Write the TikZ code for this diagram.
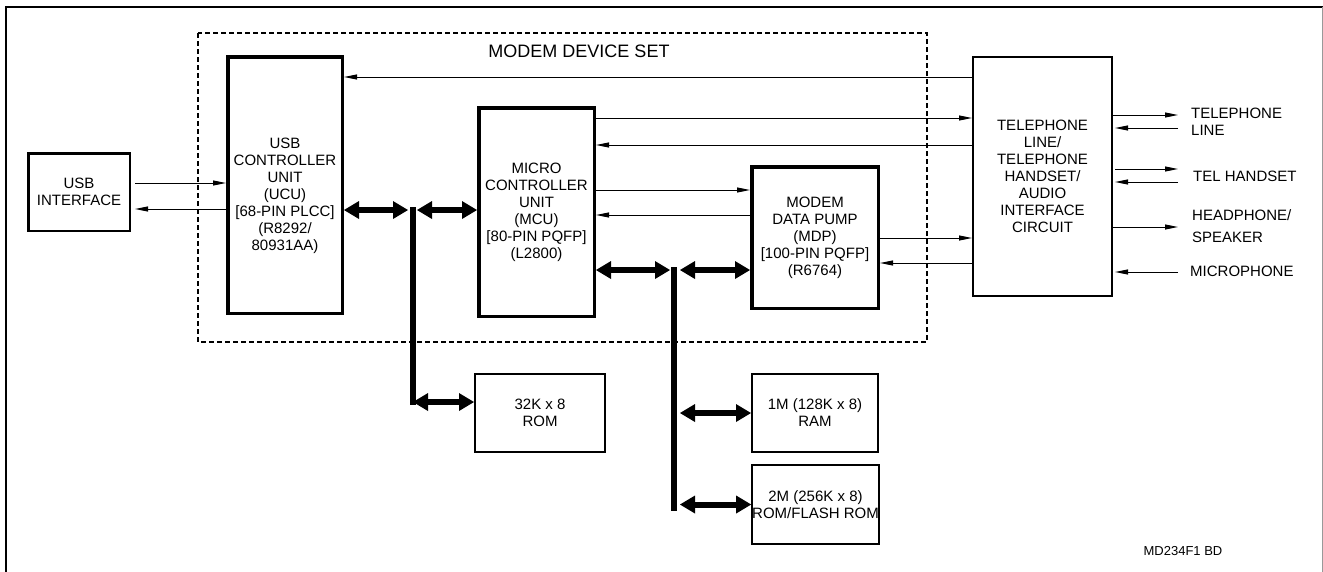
\documentclass[tikz,border=0pt]{standalone}
\usepackage{fontspec}
\setmainfont{Liberation Sans}
\usetikzlibrary{arrows.meta}

\begin{document}
\begin{tikzpicture}[x=1pt,y=-1pt,
    sig/.style={black,line width=1pt,-{Triangle[length=13pt,width=5pt]}},
    bus/.style={black,line width=6pt,{Triangle[length=15pt,width=18pt,line width=0pt]}-{Triangle[length=15pt,width=18pt,line width=0pt]}},
    chip/.style={draw=black,line width=3.5pt,align=center},
    blk/.style={draw=black,line width=2pt,align=center}]
    \tikzstyle{every node}+=[inner sep=0pt,font=\fontsize{15}{17}\selectfont]
    \useasboundingbox (0,0) rectangle (1323,571);
    \draw [black,line width=2pt] (6,580) -- (6,6.5) -- (1323,6.5);
    \draw [black!40,line width=0.6pt] (1322.3,6.5) -- (1322.3,580);
    \draw [black,line width=2pt,dash pattern=on 5pt off 3pt] (198,33) rectangle (927,342);
    \node (devset) at (579,51) {\fontsize{18}{20}\selectfont MODEM DEVICE SET};
    \node [blk,line width=2.5pt,minimum width=101.5pt,minimum height=77.5pt] (usb) at (79,192) {USB\\INTERFACE};
    \node [chip,minimum width=114.5pt,minimum height=256.5pt] (ucu) at (285,185) {};
    \node [align=center] (ucutxt) at (285,196) {USB\\CONTROLLER\\UNIT\\(UCU)\\{[}68-PIN PLCC{]}\\(R8292/\\80931AA)};
    \node [chip,minimum width=115.5pt,minimum height=208.5pt] (mcu) at (536.5,212) {MICRO\\CONTROLLER\\UNIT\\(MCU)\\{[}80-PIN PQFP{]}\\(L2800)};
    \node [chip,minimum width=126.5pt,minimum height=141.5pt] (mdp) at (815,237.5) {MODEM\\DATA PUMP\\(MDP)\\{[}100-PIN PQFP{]}\\(R6764)};
    \node [blk,minimum width=139pt,minimum height=239pt] (tel) at (1042.5,176.5) {TELEPHONE\\LINE/\\TELEPHONE\\HANDSET/\\AUDIO\\INTERFACE\\CIRCUIT};
    \node [blk,minimum width=130pt,minimum height=78pt] (rom) at (540,413) {32K x 8\\ROM};
    \node [blk,minimum width=126pt,minimum height=78pt] (ram) at (815,413) {1M (128K x 8)\\RAM};
    \node [blk,minimum width=125pt,minimum height=79pt] (flash) at (815.5,504.5) {2M (256K x 8)\\ROM/FLASH ROM};
    \node [anchor=west,align=left] (tline) at (1191,121.5) {TELEPHONE\\LINE};
    \node [anchor=west] (handset) at (1193,176) {TEL HANDSET};
    \node [anchor=west,align=left] (speaker) at (1192,226) {HEADPHONE/\\[5pt]SPEAKER};
    \node [anchor=west] (mic) at (1190,271) {MICROPHONE};
    \node (mdref) at (1183,551) {\fontsize{13}{15}\selectfont MD234F1 BD};
    \coordinate (rt) at (1178,0);
    \draw [sig,shorten <=4pt] (usb.east |- 0,183) -- (ucu.west |- 0,183);
    \draw [sig,shorten >=4pt] (ucu.west |- 0,209) -- (usb.east |- 0,209);
    \draw [sig] (tel.west |- 0,77) -- (ucu.east |- 0,77);
    \draw [sig] (mcu.east |- 0,118) -- (tel.west |- 0,118);
    \draw [sig] (tel.west |- 0,145) -- (mcu.east |- 0,145);
    \draw [sig] (mcu.east |- 0,190) -- (mdp.west |- 0,190);
    \draw [sig] (mdp.west |- 0,215) -- (mcu.east |- 0,215);
    \draw [sig] (mdp.east |- 0,238) -- (tel.west |- 0,238);
    \draw [sig] (tel.west |- 0,263) -- (mdp.east |- 0,263);
    \draw [sig] (tel.east |- 0,115) -- (rt |- 0,115);
    \draw [sig,shorten >=2pt] (rt |- 0,128) -- (tel.east |- 0,128);
    \draw [sig,shorten <=2pt] (tel.east |- 0,169) -- (rt |- 0,169);
    \draw [sig,shorten >=2pt] (rt |- 0,182) -- (tel.east |- 0,182);
    \draw [sig] (tel.east |- 0,227) -- (rt |- 0,227);
    \draw [sig,shorten >=2pt] (rt |- 0,272) -- (tel.east |- 0,272);
    \coordinate (bus1) at (413,210);
    \coordinate (bus1end) at (413,402);
    \draw [black,line width=6pt,line cap=rect] (bus1) -- (bus1end);
    \draw [bus] (ucu.east |- bus1) -- ([xshift=-5pt]bus1);
    \draw [bus] ([xshift=4pt]bus1) -- (mcu.west |- bus1);
    \draw [bus] (bus1end) -- (rom.west |- bus1end);
    \coordinate (bus2) at (674,270);
    \coordinate (bus2end) at (674,508);
    \coordinate (bus2r) at (680,270);
    \draw [black,line width=6pt,line cap=rect] (bus2) -- (bus2end);
    \draw [bus] (mcu.east |- bus2) -- ([xshift=-4pt]bus2);
    \draw [bus] (bus2r) -- (mdp.west |- bus2);
    \draw [bus] (bus2r |- ram.west) -- (ram.west);
    \draw [bus] (bus2r |- flash.west) -- (flash.west);
\end{tikzpicture}
\end{document}
